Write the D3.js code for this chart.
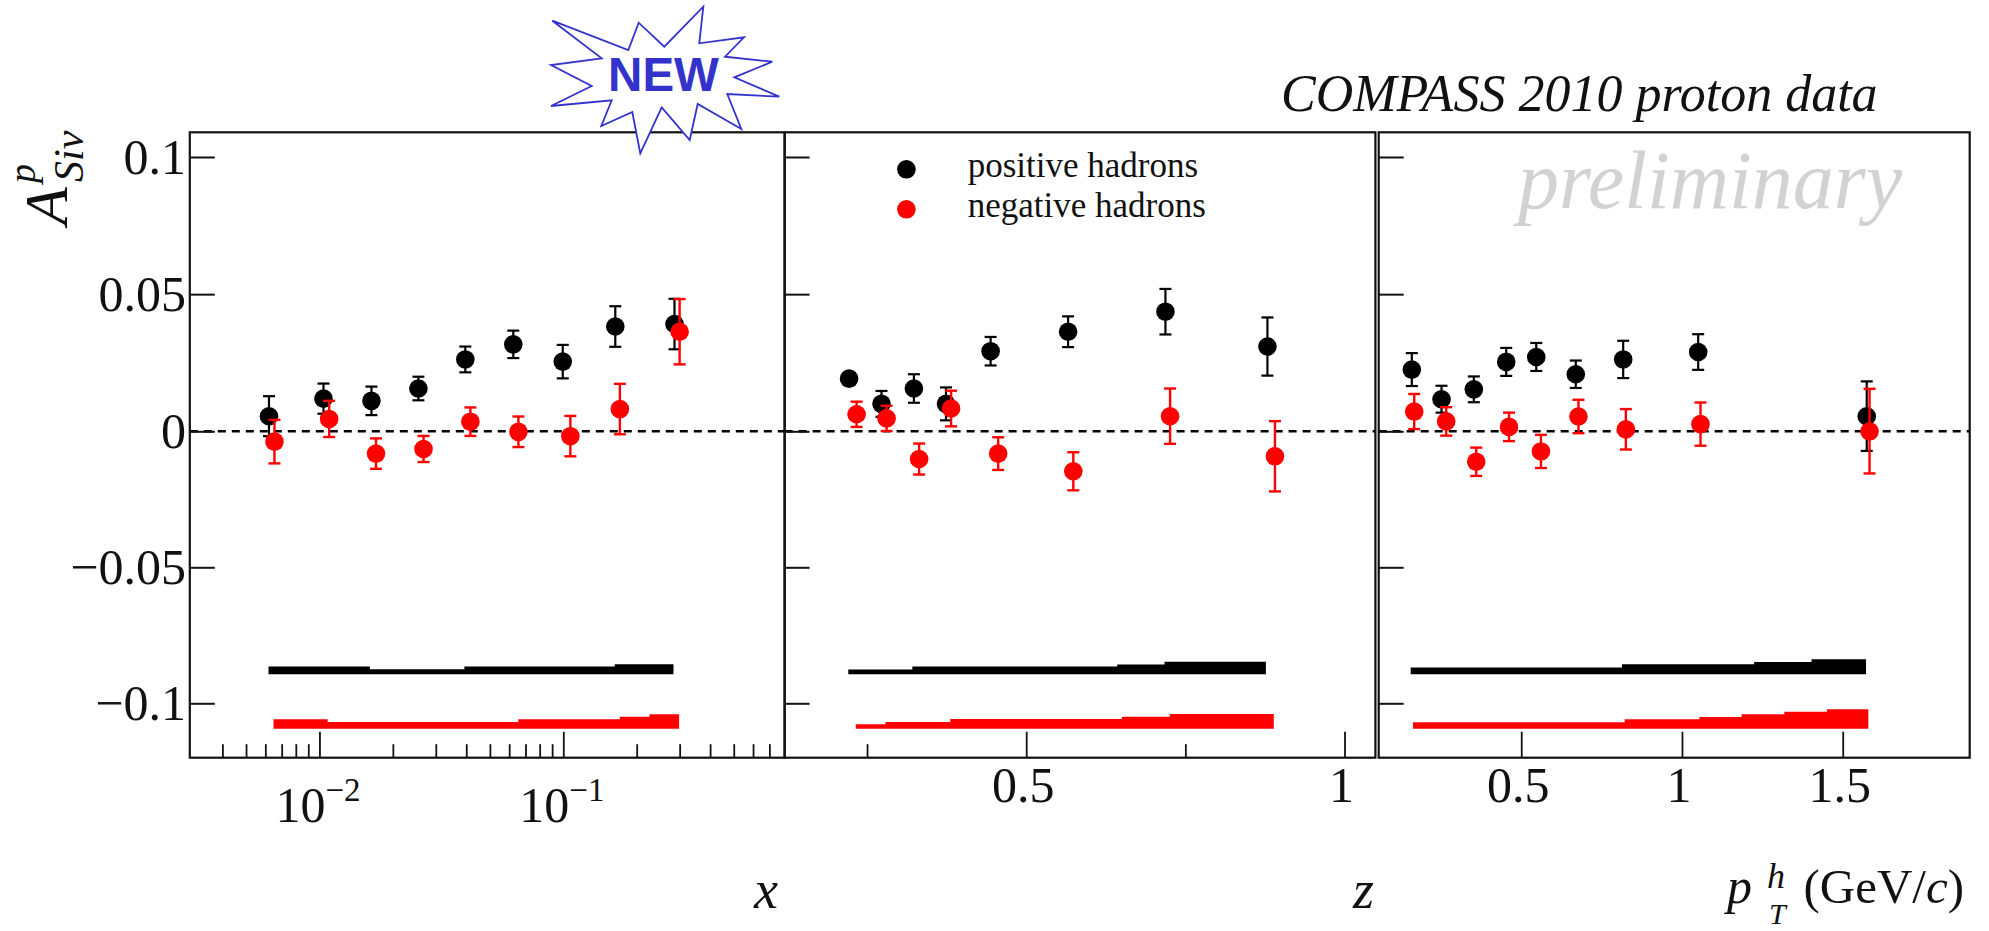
<!DOCTYPE html>
<html>
<head>
<meta charset="utf-8">
<script src="https://cdn.jsdelivr.net/npm/d3@7"></script>
<style>
    html, body {margin: 0; padding: 0; background: #fff;}
    svg {display: block;}
    text {font-family: "Liberation Serif", serif; fill: #111;}
    .it {font-style: italic;}
</style>
</head>
<body>
<div id="chart"></div>
<script>
// panel 1 - x
const xPos = [.00621, .01039, .01634, .02546, .03965, .06237, .0995, .1634, .2858],
    yPos = [.0055, .0119, .0111, .0156, .0262, .0317, .0254, .0382, .0391],
    ePos = [.0073, .0055, .0052, .0043, .0047, .005, .0061, .0074, .0092],
    xNeg = [.00654, .01096, .01706, .02672, .04159, .06546, .1069, .1706, .2999],
    yNeg = [-.0038, .0045, -.0082, -.0065, .0035, -.0002, -.0018, .0081, .0363],
    eNeg = [.008, .0066, .0056, .0048, .0052, .0056, .0074, .0092, .0119];
const sysXPos = [.00618, .0161, .0393, .1626, .2831],
    sysTopPos = [-.0865, -.0875, -.0865, -.0856, -.0856],
    sysXNeg = [.00648, .01081, .0654, .1704, .2257, .2985],
    sysTopNeg = [-.1059, -.1069, -.1059, -.1049, -.104, -.104];

// panel 2 - z
const zPos = [.2218, .2727, .3236, .374, .4441, .5658, .7187, .8789],
    zyPos = [.0192, .01, .0156, .01, .0292, .0363, .0436, .0309],
    zePos = [.002, .0047, .0052, .006, .0052, .0056, .0083, .0106],
    zNeg = [.2336, .2807, .3318, .382, .456, .574, .726, .8907],
    zyNeg = [.0062, .0047, -.0102, .0083, -.0082, -.0147, .0055, -.0092],
    zeNeg = [.0046, .0046, .0057, .0065, .006, .007, .0101, .0129];
const zSysXPos = [.2205, .3211, .6429, .7173, .8765],
    zSysTopPos = [-.0876, -.0865, -.0857, -.0847, -.0847],
    zSysXNeg = [.2323, .279, .3808, .6503, .7256, .8889],
    zSysTopNeg = [-.1077, -.1069, -.1058, -.1049, -.1039, -.1039];

// panel 3 - pT
const ptPos = [.1596, .252, .3525, .4533, .5467, .6696, .8171, 1.0504, 1.5747],
    ptyPos = [.0225, .0117, .0153, .0253, .0271, .0208, .0262, .0289, .0055],
    ptePos = [.006, .0049, .0047, .0051, .0051, .005, .0068, .0065, .0127],
    ptNeg = [.1671, .2666, .36, .462, .5613, .678, .8254, 1.0576, 1.5834],
    ptyNeg = [.0072, .0036, -.0112, .0016, -.0074, .0054, .0007, .0026, 0],
    pteNeg = [.0064, .0052, .0052, .0052, .0061, .0061, .0074, .0079, .0155];
const ptSysXPos = [.1562, .8133, 1.2246, 1.4029, 1.5725],
    ptSysTopPos = [-.0868, -.0856, -.0848, -.0838, -.0838],
    ptSysXNeg = [.1633, .8217, 1.0541, 1.1854, 1.3183, 1.4509, 1.5797],
    ptSysTopNeg = [-.107, -.1059, -.105, -.104, -.1031, -.1022, -.1022];

const sysBasePos = -.0893,
    sysBaseNeg = -.1094;

const yTicks = [.1, .05, 0, -.05, -.1],
    yTickLabels = ["0.1", "0.05", "0", "\u22120.05", "\u22120.1"];
const logMajor = [.01, .1],
    logMinor = [.004, .005, .006, .007, .008, .009, .02, .03, .04, .05, .06, .07, .08, .09, .2, .3, .4, .5, .6, .7];
const zMajor = [.5, 1],
    zMinor = [.25, .75],
    ptMajor = [.5, 1, 1.5];

const legendLabels = ["positive hadrons", "negative hadrons"];

const starPoints = [[552.3, 20.7], [628.3, 50], [638.7, 22.7], [664.3, 46.7], [703.3, 6.7], [699.3, 43.3], [744, 37.3], [725, 56.7],
    [772.3, 61.7], [734.3, 77.3], [779.3, 96.7], [727.3, 94], [741.3, 129], [697.7, 104], [689.7, 140], [661.7, 107.3],
    [640.3, 153.3], [632.3, 112], [601.3, 126], [611.7, 100.3], [551, 106], [591.7, 86], [551, 65], [601.7, 58.3]];

const width = 1989, height = 931,
    frameTop = 132.3, frameBottom = 757.7,
    black = "#000", red = "#ff0000";

const y = d3.scaleLinear()
    .domain([.109, 0, -.12])
    .range([frameTop, 431.3, frameBottom]);

const panels = [
    {
        x: d3.scaleLog().domain([.00294, .809]).range([189.8, 784.7]),
        major: logMajor, minor: logMinor,
        pos: [xPos, yPos, ePos], neg: [xNeg, yNeg, eNeg],
        sysPos: [sysXPos, sysTopPos], sysNeg: [sysXNeg, sysTopNeg]
    },
    {
        x: d3.scaleLinear().domain([.1205, 1.0485]).range([784.6, 1375.4]),
        major: zMajor, minor: zMinor,
        pos: [zPos, zyPos, zePos], neg: [zNeg, zyNeg, zeNeg],
        sysPos: [zSysXPos, zSysTopPos], sysNeg: [zSysXNeg, zSysTopNeg]
    },
    {
        x: d3.scaleLinear().domain([.0566, 1.895]).range([1378.7, 1969.7]),
        major: ptMajor, minor: [],
        pos: [ptPos, ptyPos, ptePos], neg: [ptNeg, ptyNeg, pteNeg],
        sysPos: [ptSysXPos, ptSysTopPos], sysNeg: [ptSysXNeg, ptSysTopNeg]
    }
];

const svg = d3.select("#chart")
    .append("svg")
    .attr("width", width)
    .attr("height", height);

function addText(sel, x, y, str, size, cls) {
    return sel.append("text")
        .attr("x", x)
        .attr("y", y)
        .attr("class", cls || null)
        .attr("font-size", size)
        .text(str);
}

function drawBand(g, x, sys, base, color) {
    const rows = sys[0].map((v, i) => ({x: v, top: sys[1][i]}));
    const area = d3.area()
        .curve(d3.curveStepAfter)
        .x(d => x(d.x))
        .y0(y(base))
        .y1(d => y(d.top));
    g.append("path")
        .attr("d", area(rows))
        .attr("fill", color);
}

function drawPoints(g, x, series, color, sw) {
    const rows = series[0].map((v, i) => ({x: v, y: series[1][i], e: series[2][i]}));
    const pt = g.selectAll(null)
        .data(rows)
        .enter().append("g")
        .attr("stroke", color)
        .attr("stroke-width", sw);
    pt.append("line")
        .attr("x1", d => x(d.x)).attr("x2", d => x(d.x))
        .attr("y1", d => y(d.y + d.e)).attr("y2", d => y(d.y - d.e));
    pt.append("line")
        .attr("x1", d => x(d.x) - 6).attr("x2", d => x(d.x) + 6)
        .attr("y1", d => y(d.y + d.e)).attr("y2", d => y(d.y + d.e));
    pt.append("line")
        .attr("x1", d => x(d.x) - 6).attr("x2", d => x(d.x) + 6)
        .attr("y1", d => y(d.y - d.e)).attr("y2", d => y(d.y - d.e));
    pt.append("circle")
        .attr("cx", d => x(d.x))
        .attr("cy", d => y(d.y))
        .attr("r", 9.3)
        .attr("fill", color)
        .attr("stroke", "none");
}

function drawAxis(axis, yPosAt, strokeW) {
    return g => {
        g.attr("transform", yPosAt).call(axis);
        g.select(".domain").remove();
        g.selectAll("text").remove();
        g.selectAll("line").attr("stroke", "#111").attr("stroke-width", strokeW);
    };
}

panels.forEach(p => {
    const g = svg.append("g");
    const [x0, x1] = p.x.range();

    g.append("line")
        .attr("x1", x0).attr("x2", x1)
        .attr("y1", y(0)).attr("y2", y(0))
        .attr("stroke", black)
        .attr("stroke-width", 2.4)
        .attr("stroke-dasharray", "8,6");

    drawBand(g, p.x, p.sysPos, sysBasePos, black);
    drawBand(g, p.x, p.sysNeg, sysBaseNeg, red);
    drawPoints(g, p.x, p.pos, black, 2.2);
    drawPoints(g, p.x, p.neg, red, 2.4);

    g.append("g").call(drawAxis(d3.axisRight(y).tickValues(yTicks).tickSize(25), `translate(${x0},0)`, 2));
    g.append("g").call(drawAxis(d3.axisTop(p.x).tickValues(p.major).tickSize(26), `translate(0,${frameBottom})`, 1.8));
    if (p.minor.length) {
        g.append("g").call(drawAxis(d3.axisTop(p.x).tickValues(p.minor).tickSize(13.5), `translate(0,${frameBottom})`, 1.8));
    }

    g.append("rect")
        .attr("x", x0).attr("y", frameTop)
        .attr("width", x1 - x0).attr("height", frameBottom - frameTop)
        .attr("fill", "none")
        .attr("stroke", "#111")
        .attr("stroke-width", 2.2);
});

// y tick labels
svg.append("g")
    .attr("text-anchor", "end")
    .selectAll("text")
    .data(yTicks)
    .enter().append("text")
    .attr("x", 186)
    .attr("y", d => y(d) + 17)
    .attr("font-size", 50)
    .text((d, i) => yTickLabels[i]);

// x tick labels
const xLog = panels[0].x;
logMajor.forEach((v, i) => {
    const t = svg.append("text")
        .attr("x", xLog(v) - 44)
        .attr("y", 821.5)
        .attr("font-size", 50)
        .text("10");
    t.append("tspan")
        .attr("dy", -21)
        .attr("font-size", 33)
        .text(i === 0 ? "\u22122" : "\u22121");
});
[[panels[1], zMajor], [panels[2], ptMajor]].forEach(([p, vals]) => {
    svg.append("g")
        .attr("text-anchor", "middle")
        .selectAll("text")
        .data(vals)
        .enter().append("text")
        .attr("x", d => p.x(d) - 3)
        .attr("y", 801.5)
        .attr("font-size", 50)
        .text(d => d);
});

// axis titles
addText(svg, 754, 908, "x", 54, "it");
addText(svg, 1353, 908, "z", 54, "it");
addText(svg, 1727, 903, "p", 50, "it");
addText(svg, 1767, 888, "h", 36, "it");
addText(svg, 1769, 924, "T", 30, "it");
const unit = addText(svg, 1803.5, 903, "(GeV/", 49);
unit.append("tspan").attr("class", "it").text("c");
unit.append("tspan").text(")");

const yTitle = svg.append("g").attr("transform", "translate(66.7,225) rotate(-90)");
addText(yTitle, 0, 0, "A", 62, "it");
addText(yTitle, 43, 16, "Siv", 42, "it");
addText(yTitle, 42, -32.2, "p", 38, "it");

// headline and watermark
addText(svg, 1281, 111, "COMPASS 2010 proton data", 52, "it");
addText(svg, 1518, 208, "preliminary", 82, "it").style("fill", "#d2d2d2");

// legend
legendLabels.forEach((s, i) => {
    const ly = [169.3, 209.3][i];
    svg.append("circle")
        .attr("cx", 906.4).attr("cy", ly)
        .attr("r", 9.3)
        .attr("fill", i ? red : black);
    addText(svg, 967.7, ly + 8, s, 35);
});

// NEW star
svg.append("polygon")
    .attr("points", starPoints.map(d => d.join(",")).join(" "))
    .attr("fill", "#fff")
    .attr("stroke", "#3333cc")
    .attr("stroke-width", 1.8);
svg.append("text")
    .attr("x", 663.5)
    .attr("y", 90.5)
    .attr("text-anchor", "middle")
    .attr("font-size", 47.5)
    .style("font-family", "'Liberation Sans', sans-serif")
    .style("font-weight", "bold")
    .style("fill", "#3333cc")
    .text("NEW");
</script>
</body>
</html>
